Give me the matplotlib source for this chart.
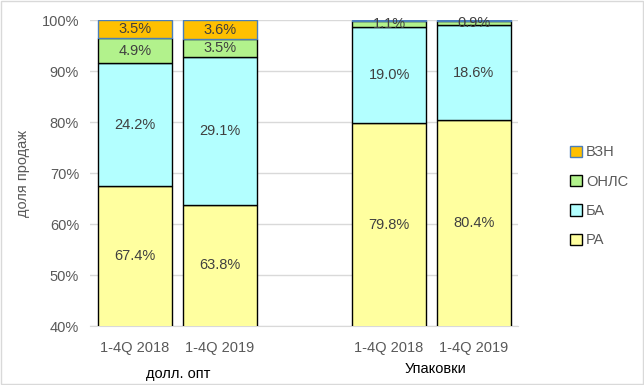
import matplotlib
matplotlib.use("Agg")
import matplotlib.pyplot as plt
from matplotlib.patches import Patch, Rectangle

plt.rcParams["font.family"] = ["Liberation Sans", "DejaVu Sans"]

categories = ["1-4Q 2018", "1-4Q 2019", "1-4Q 2018", "1-4Q 2019"]
groups = ["долл. опт", "Упаковки"]
series = ["РА", "БА", "ОНЛС", "ВЗН"]
ra = [67.4, 63.8, 79.8, 80.4]
ba = [24.2, 29.1, 19.0, 18.6]
onls = [4.9, 3.5, 1.1, 0.9]
vzn = [3.5, 3.6, 0.1, 0.1]
vzn_labels = ["3.5%", "3.6%", "", ""]

colors = {"РА": "#FFFF9F", "БА": "#B3FFFF", "ОНЛС": "#B2F28C", "ВЗН": "#FFC000"}
edges = {"РА": "black", "БА": "black", "ОНЛС": "black", "ВЗН": "#4A7EBB"}
text_col = "#404040"
y_min = 40

pos = [0, 1, 3, 4]
fig = plt.figure(figsize=(6.44, 3.85), dpi=100)
ax = fig.add_axes([0.14, 0.153, 0.664, 0.794])

bottom = [0.0] * 4
for name, vals in zip(series, [ra, ba, onls, vzn]):
    ax.bar(pos, vals, bottom=bottom, width=0.87, color=colors[name],
           edgecolor=edges[name], linewidth=1.0, zorder=3)
    for i, v in enumerate(vals):
        lab = vzn_labels[i] if name == "ВЗН" else f"{v:.1f}%"
        if not lab:
            continue
        # центр видимой части сегмента (ось начинается с 40%)
        lo = max(bottom[i], y_min)
        yc = (lo + bottom[i] + v) / 2
        ax.text(pos[i], yc, lab, ha="center", va="center",
                fontsize=10.5, color=text_col, zorder=4)
    bottom = [b + v for b, v in zip(bottom, vals)]

ax.set_ylim(y_min, 100)
ax.set_xlim(-0.53, 4.52)
ax.set_yticks(range(40, 101, 10))
ax.set_yticklabels([f"{t}%" for t in range(40, 101, 10)], fontsize=10.5, color="#595959")
ax.set_xticks(pos)
ax.set_xticklabels(categories, fontsize=10.5, color="#595959")
ax.tick_params(axis="x", length=0, pad=11)
ax.tick_params(axis="y", length=0, pad=8)
ax.yaxis.grid(True, color="#D9D9D9", linewidth=1.0, zorder=0)
for s in ["top", "right", "left"]:
    ax.spines[s].set_visible(False)
ax.spines["bottom"].set_color("#D9D9D9")
ax.set_ylabel("доля продаж", fontsize=10.5, color="#595959", labelpad=8)

fig.text(178 / 644, 1 - 374 / 385, groups[0], ha="center", va="center", fontsize=10.5, color="black")
fig.text(435 / 644, 1 - 369 / 385, groups[1], ha="center", va="center", fontsize=10.5, color="black")

handles = [Patch(facecolor=colors[n], edgecolor="black", linewidth=1.0) for n in series[::-1]]
handles[0] = Patch(facecolor=colors["ВЗН"], edgecolor="#4A7EBB", linewidth=1.0)
leg = fig.legend(handles, series[::-1], loc="center left", bbox_to_anchor=(0.865, 0.49),
                 frameon=False, fontsize=10.5, handlelength=0.8, handleheight=0.8,
                 handletextpad=0.3, labelspacing=1.05)
for t in leg.get_texts():
    t.set_color("#595959")

fig.patches.append(Rectangle((0.002, 0.002), 0.996, 0.995, transform=fig.transFigure,
                             fill=False, edgecolor="#D9D9D9", linewidth=1.0))
fig.savefig("out.png", dpi=100)
